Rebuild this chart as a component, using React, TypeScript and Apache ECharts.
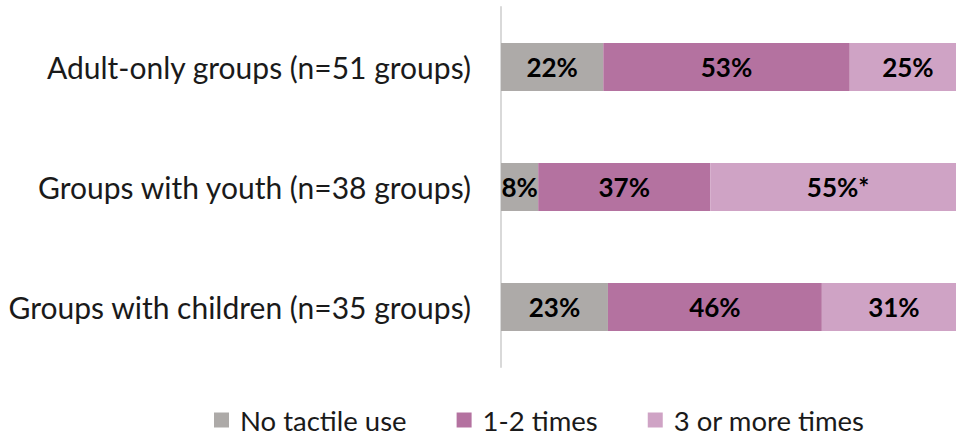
import React, { useEffect, useRef } from "react";
import * as echarts from "echarts";

const categories = [
  "Adult-only groups (n=51 groups)",
  "Groups with youth (n=38 groups)",
  "Groups with children (n=35 groups)",
];
const seriesNames = ["No tactile use", "1-2 times", "3 or more times"];
const noTactile = [22, 8, 23];
const oneTwo = [53, 37, 46];
const threePlus = [25, 55, 31];
const labelSuffix = [["", "", ""], ["", "", ""], ["", "*", ""]];
const colors = ["#adaaa8", "#b472a0", "#cfa3c5"];

const FONT = "Lato, 'Noto Sans', sans-serif";

// The 100% end of each bar runs slightly past the right edge of the canvas.
const VISIBLE_MAX = 97.85;

export default function App() {
  const ref = useRef<HTMLDivElement>(null);
  useEffect(() => {
    if (!ref.current) return;
    const chart = echarts.init(ref.current, null, { renderer: "svg" });
    const values = [noTactile, oneTwo, threePlus];
    chart.setOption({
      animation: false,
      textStyle: { fontFamily: FONT },
      grid: { left: 501, right: 0, top: 7, bottom: 69, containLabel: false },
      legend: {
        top: 406,
        left: 214,
        padding: 0,
        itemWidth: 15,
        itemHeight: 15,
        itemGap: 50,
        icon: "rect",
        textStyle: {
          fontFamily: FONT,
          fontSize: 27.5,
          lineHeight: 26,
          color: "#1a1a1a",
          padding: [0, 0, 0, 6],
        },
        data: seriesNames,
      },
      xAxis: {
        type: "value",
        min: 0,
        max: VISIBLE_MAX,
        show: false,
      },
      yAxis: {
        type: "category",
        inverse: true,
        data: categories,
        axisLine: { show: true, lineStyle: { color: "#d9d9d9", width: 2 } },
        axisTick: { show: false },
        axisLabel: { fontFamily: FONT, fontSize: 30, color: "#1a1a1a", margin: 30 },
      },
      series: values.map((vals, si) => ({
        name: seriesNames[si],
        type: "bar",
        stack: "total",
        barWidth: 48,
        clip: false,
        itemStyle: { color: colors[si] },
        data: vals.map((v, ci) => ({
          value: v,
          label: {
            show: true,
            position: "inside",
            formatter: `${v}%${labelSuffix[si][ci]}`,
            fontFamily: FONT,
            fontSize: 26,
            fontWeight: "bold",
            color: "#000",
          },
        })),
      })),
    });
    return () => chart.dispose();
  }, []);
  return <div ref={ref} style={{ width: 956, height: 436, position: "absolute", left: 0, top: 0 }} />;
}
